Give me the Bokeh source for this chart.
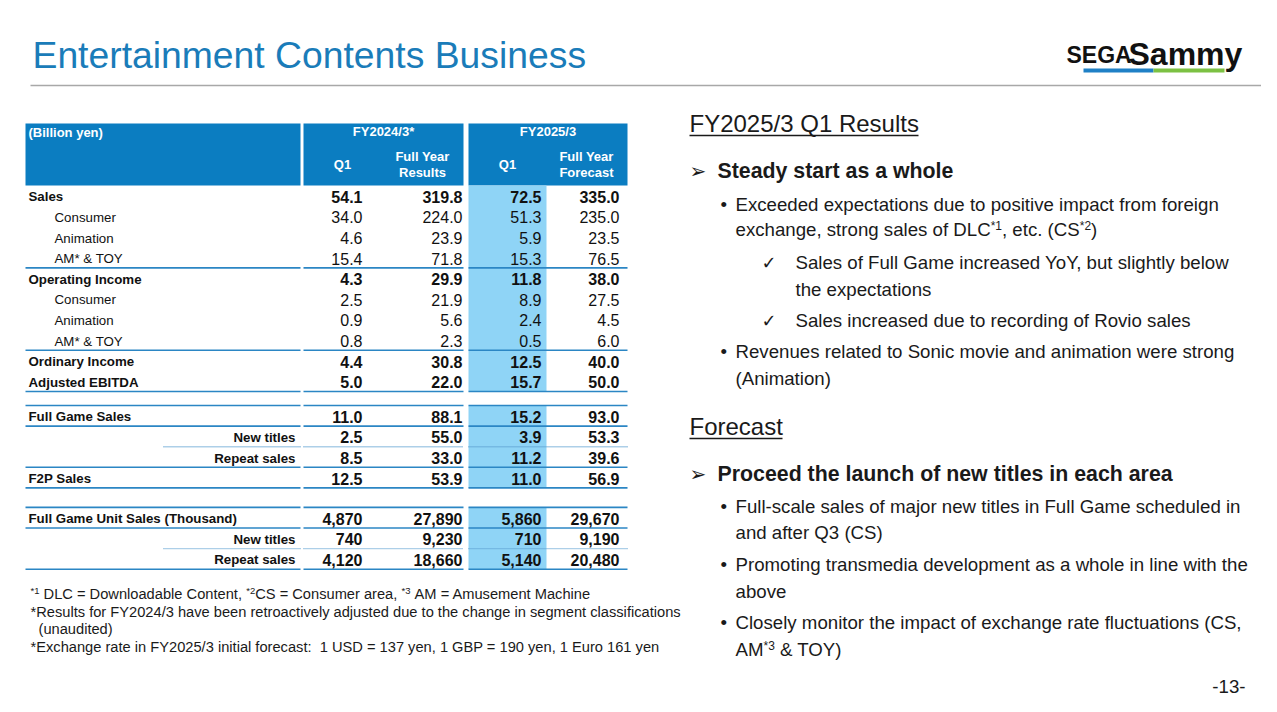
from bokeh.plotting import figure
from bokeh.models import ColumnDataSource, Range1d
from bokeh.core.properties import value
from bokeh.embed import file_html
from bokeh.resources import INLINE

# ---------------- data ----------------
row_labels = ["Sales", "Consumer", "Animation", "AM* & TOY",
              "Operating Income", "Consumer", "Animation", "AM* & TOY",
              "Ordinary Income", "Adjusted EBITDA", "",
              "Full Game Sales", "New titles", "Repeat sales", "F2P Sales", "",
              "Full Game Unit Sales (Thousand)", "New titles", "Repeat sales"]
row_kinds = ["b", "s", "s", "s", "b", "s", "s", "s", "b", "b", "gap",
             "b", "r", "r", "b", "gap", "b", "r", "r"]
fy2024_q1 = [54.1, 34.0, 4.6, 15.4, 4.3, 2.5, 0.9, 0.8, 4.4, 5.0, None,
             11.0, 2.5, 8.5, 12.5, None, 4870, 740, 4120]
fy2024_full = [319.8, 224.0, 23.9, 71.8, 29.9, 21.9, 5.6, 2.3, 30.8, 22.0, None,
               88.1, 55.0, 33.0, 53.9, None, 27890, 9230, 18660]
fy2025_q1 = [72.5, 51.3, 5.9, 15.3, 11.8, 8.9, 2.4, 0.5, 12.5, 15.7, None,
             15.2, 3.9, 11.2, 11.0, None, 5860, 710, 5140]
fy2025_forecast = [335.0, 235.0, 23.5, 76.5, 38.0, 27.5, 4.5, 6.0, 40.0, 50.0, None,
                   93.0, 53.3, 39.6, 56.9, None, 29670, 9190, 20480]
solid_rule_below = [3, 7, 9, 11, 13, 14, 16, 18]
solid_rule_above = [11, 16]
dotted_rule_below = [12, 17]

header_groups = ["FY2024/3*", "FY2025/3"]
header_cols = [["Q1"], ["Full Year", "Results"], ["Q1"], ["Full Year", "Forecast"]]

# ---------------- figure ----------------
W, H = 1261, 696
p = figure(width=W, height=H, x_range=Range1d(0, W), y_range=Range1d(H, 0),
           output_backend="svg", toolbar_location=None, min_border=0,
           x_axis_location=None, y_axis_location=None)
p.grid.visible = False
p.outline_line_color = None
p.background_fill_color = "white"
p.border_fill_color = "white"

FONT = "Liberation Sans"
BLUE_HDR = "#0b7dc1"
LIGHT = "#8fd4f6"
RULE = "#2b86c4"
TITLE_BLUE = "#1a7cb9"
NB = "\u00a0"


def txt(x, y, s, size, bold=False, color="#1a1a1a", align="left", font=FONT):
    p.text(x=[x], y=[y], text=[s], text_font=value(font),
           text_font_size=value(f"{size}px"),
           text_font_style="bold" if bold else "normal",
           text_color=color, text_align=align, text_baseline="middle")


# ---------------- title & logo ----------------
txt(32, 54, "Entertainment Contents Business", 37.3, color=TITLE_BLUE)
p.segment(x0=[30], y0=[85], x1=[W], y1=[85], line_color="#a8a8a8", line_width=1.5)
txt(1066, 54, "SEGA", 23, bold=True, color="#111111")
txt(1128, 53, "Sammy", 32, bold=True, color="#111111")
p.quad(left=[1083, 1153], right=[1153, 1224], top=[68, 68], bottom=[72, 72],
       fill_color=["#1f80c6", "#7cc143"], line_color=None)

# ---------------- table geometry ----------------
blocks = [(25, 300), (303, 463), (468, 627)]
col_right = [362, 462, 541, 619]
col_center = [342, 422, 507, 586]
HDR_TOP, HDR_BOT = 123, 185
ROW_H = 20.6
GAP_H = [14.0, 19.5]
tops, heights = [], []
yy, gi = HDR_BOT, 0
for k in row_kinds:
    if k == "gap":
        h = GAP_H[gi]
        gi += 1
    else:
        h = ROW_H
    tops.append(yy)
    heights.append(h)
    yy += h
centers = [t + h / 2 + 1 for t, h in zip(tops, heights)]

# header
p.quad(left=[b[0] for b in blocks], right=[b[1] for b in blocks],
       top=[HDR_TOP] * 3, bottom=[HDR_BOT] * 3, fill_color=BLUE_HDR, line_color=None)
HS = 13
txt(28, 132, "(Billion yen)", HS, bold=True, color="white")
for gname, (l, r) in zip(header_groups, blocks[1:]):
    txt((l + r) / 2, 131, gname, HS, bold=True, color="white", align="center")
for cx, lines in zip(col_center, header_cols):
    if len(lines) == 1:
        txt(cx, 164, lines[0], HS, bold=True, color="white", align="center")
    else:
        txt(cx, 156, lines[0], HS, bold=True, color="white", align="center")
        txt(cx, 172, lines[1], HS, bold=True, color="white", align="center")

# highlight column (FY2025/3 Q1), one band per block of rows
spans, start = [], None
for i, k in enumerate(row_kinds + ["gap"]):
    if k != "gap" and start is None:
        start = i
    if k == "gap" and start is not None:
        spans.append((tops[start], tops[i - 1] + heights[i - 1]))
        start = None
p.quad(left=[blocks[2][0]] * len(spans), right=[546] * len(spans),
       top=[s[0] for s in spans], bottom=[s[1] for s in spans],
       fill_color=LIGHT, line_color=None)

# rules
sx0, sx1, sy = [], [], []
for i in solid_rule_below:
    for l, r in blocks:
        sx0.append(l); sx1.append(r); sy.append(tops[i] + heights[i])
for i in solid_rule_above:
    for l, r in blocks:
        sx0.append(l); sx1.append(r); sy.append(tops[i])
p.segment(x0=sx0, y0=sy, x1=sx1, y1=sy, line_color=RULE, line_width=1.6)
dx0, dx1, dy = [], [], []
for i in dotted_rule_below:
    for j, (l, r) in enumerate(blocks):
        dx0.append(163 if j == 0 else l); dx1.append(r); dy.append(tops[i] + heights[i])
p.segment(x0=dx0, y0=dy, x1=dx1, y1=dy, line_color="#5b9ed0", line_width=1.4,
          line_dash="1 1")

# labels
LS = 13.3
for style, xpos, align, bold in [("b", 28, "left", True), ("s", 54, "left", False),
                                 ("r", 295, "right", True)]:
    idx = [i for i, k in enumerate(row_kinds) if k == style]
    src = ColumnDataSource(dict(x=[xpos] * len(idx),
                                y=[centers[i] for i in idx],
                                t=[row_labels[i] for i in idx]))
    p.text(x="x", y="y", text="t", source=src, text_font=value(FONT),
           text_font_size=value(f"{LS}px"), text_font_style="bold" if bold else "normal",
           text_color="#111111", text_align=align, text_baseline="middle")


def fmt(v):
    return f"{v:,}" if isinstance(v, int) else f"{v:.1f}"


NS = 16
for series, xr in zip([fy2024_q1, fy2024_full, fy2025_q1, fy2025_forecast], col_right):
    for bold in (True, False):
        idx = [i for i, k in enumerate(row_kinds)
               if k != "gap" and ((k != "s") == bold)]
        src = ColumnDataSource(dict(x=[xr] * len(idx),
                                    y=[centers[i] for i in idx],
                                    t=[fmt(series[i]) for i in idx]))
        p.text(x="x", y="y", text="t", source=src, text_font=value(FONT),
               text_font_size=value(f"{NS}px"),
               text_font_style="bold" if bold else "normal",
               text_color="#111111", text_align="right", text_baseline="middle")

# ---------------- footnotes ----------------
FS, SS = 14.67, 9.5
txt(30, 590, "*1", SS)
txt(39, 593, NB + "DLC = Downloadable Content, ", FS)
txt(245.7, 590, "*2", SS)
txt(254.7, 593, "CS = Consumer area, ", FS)
txt(401, 590, "*3", SS)
txt(410, 593, NB + "AM = Amusement Machine", FS)
txt(30, 611, "*Results for FY2024/3 have been retroactively adjusted due to the change in segment classifications", FS)
txt(38, 628, "(unaudited)", FS)
txt(30, 646, "*Exchange rate in FY2025/3 initial forecast:" + NB + NB + "1 USD = 137 yen, 1 GBP = 190 yen, 1 Euro 161 yen", FS)

# ---------------- right-hand commentary ----------------
BS = 18.67
HB = 21.33
SEC = 24
txt(689, 123, "FY2025/3 Q1 Results", SEC)
p.segment(x0=[689], y0=[135], x1=[918], y1=[135], line_color="#1a1a1a", line_width=1.3)
txt(689, 170, "➢", 20, font="DejaVu Sans")
txt(717, 170, "Steady start as a whole", HB, bold=True)
txt(720, 204, "•", BS)
txt(735, 204, "Exceeded expectations due to positive impact from foreign", BS)
txt(735, 229, "exchange, strong sales of DLC", BS)
txt(990.2, 225, "*1", 12)
txt(1001.5, 229, ", etc. (CS", BS)
txt(1079.3, 225, "*2", 12)
txt(1090.6, 229, ")", BS)
txt(761, 262, "✓", 18, font="DejaVu Sans")
txt(795, 262, "Sales of Full Game increased YoY, but slightly below", BS)
txt(795, 289, "the expectations", BS)
txt(761, 320, "✓", 18, font="DejaVu Sans")
txt(795, 320, "Sales increased due to recording of Rovio sales", BS)
txt(720, 351, "•", BS)
txt(735, 351, "Revenues related to Sonic movie and animation were strong", BS)
txt(735, 378, "(Animation)", BS)

txt(689, 426, "Forecast", SEC)
p.segment(x0=[689], y0=[438], x1=[782], y1=[438], line_color="#1a1a1a", line_width=1.3)
txt(689, 473, "➢", 20, font="DejaVu Sans")
txt(717, 473, "Proceed the launch of new titles in each area", HB, bold=True)
txt(720, 506, "•", BS)
txt(735, 506, "Full-scale sales of major new titles in Full Game scheduled in", BS)
txt(735, 532, "and after Q3 (CS)", BS)
txt(720, 564, "•", BS)
txt(735, 564, "Promoting transmedia development as a whole in line with the", BS)
txt(735, 591, "above", BS)
txt(720, 622, "•", BS)
txt(735, 622, "Closely monitor the impact of exchange rate fluctuations (CS,", BS)
txt(735, 649, "AM", BS)
txt(763, 645, "*3", 12)
txt(774.3, 649, NB + "& TOY)", BS)

txt(1245, 686, "-13-", BS, align="right")

open("out.html", "w").write(file_html(p, INLINE))
